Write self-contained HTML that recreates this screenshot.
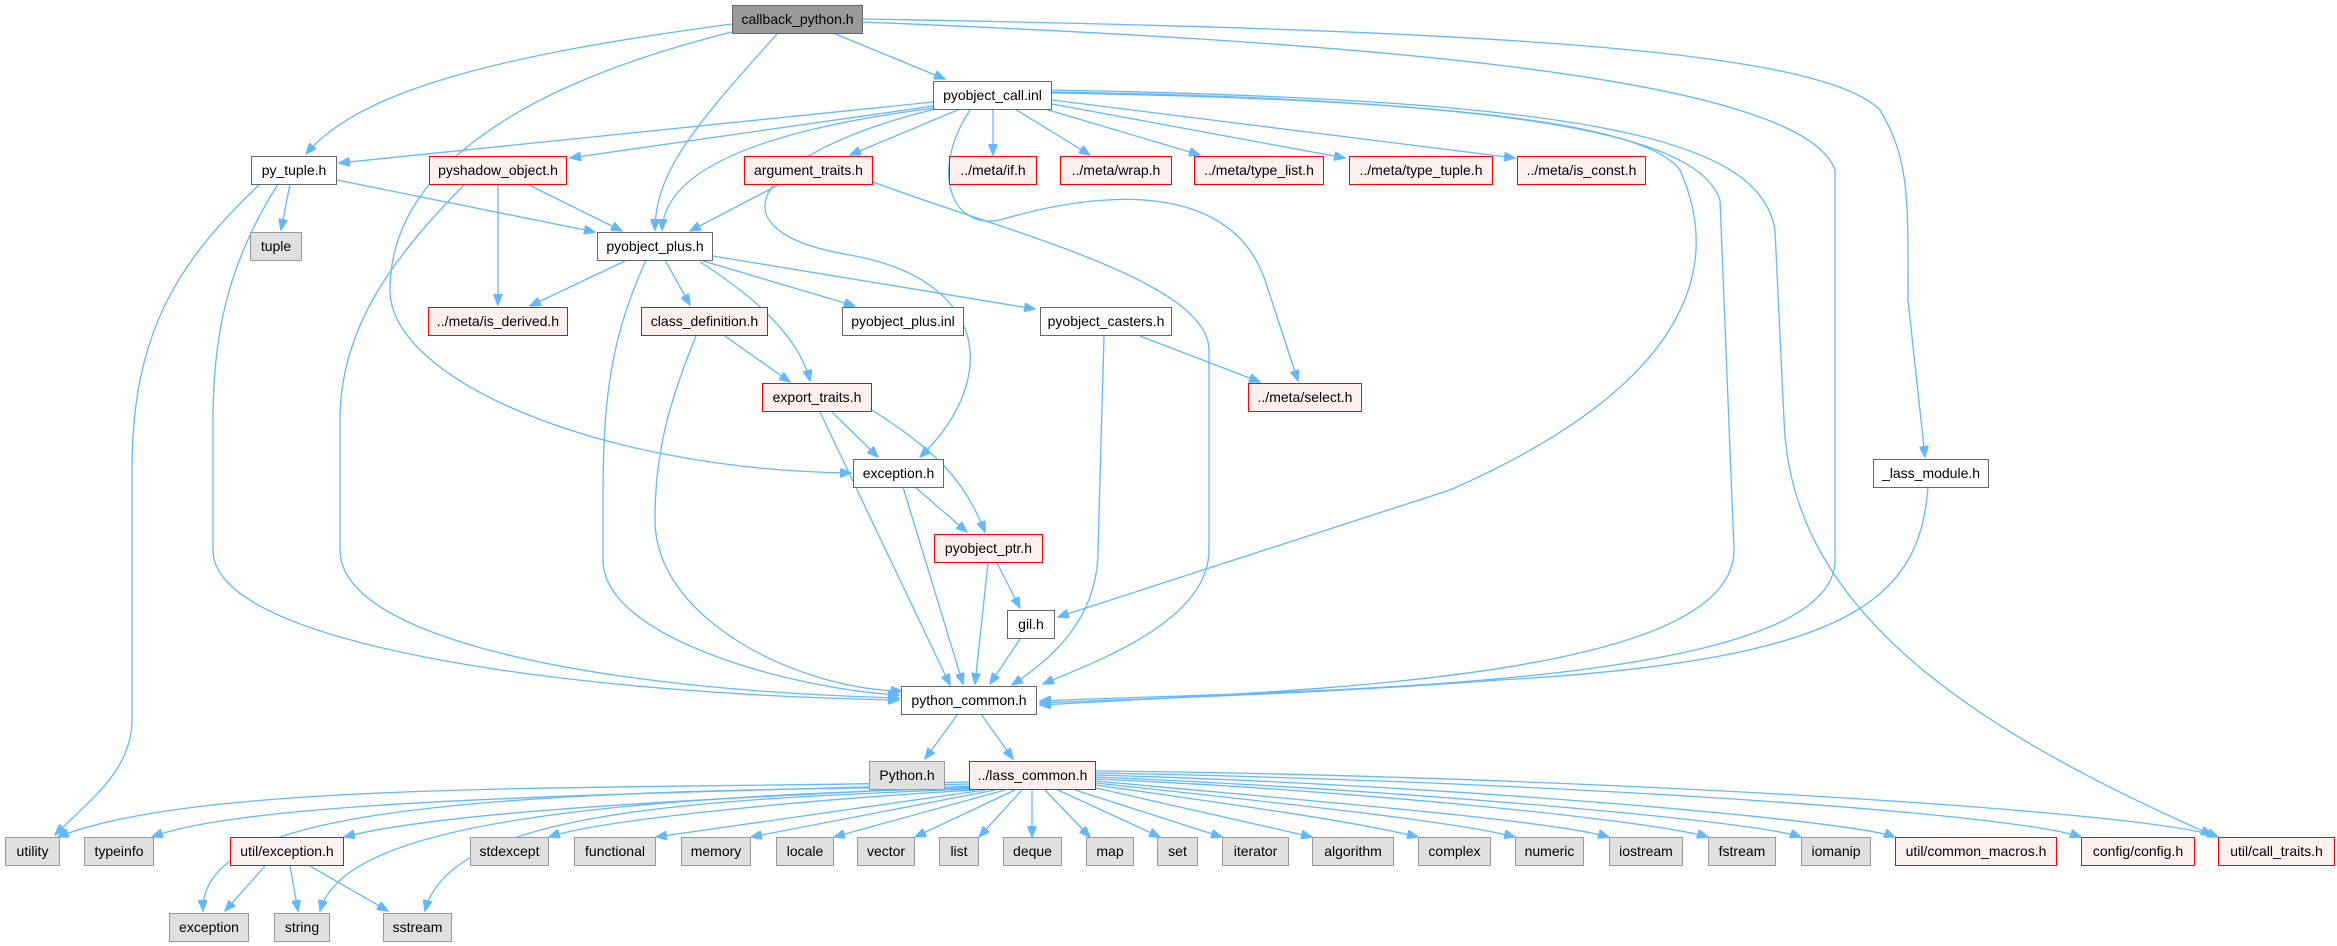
<!DOCTYPE html>
<html><head><meta charset="utf-8"><style>
body{margin:0;background:#fff;width:2337px;height:946px;position:relative;overflow:hidden;font-family:"Liberation Sans","DejaVu Sans",sans-serif}
.n{position:absolute;box-sizing:border-box;height:29px;line-height:27px;text-align:center;font-size:14px;color:#000;white-space:nowrap;border:1.5px solid #666;background:#fff}
.g{background:#e0e0e0;border-color:#999}
.r{background:#fff0f0;border-color:#f00}
.root{background:#999;border-color:#666}
svg{position:absolute;left:0;top:0}
path{fill:none;stroke:#63b8ff;stroke-width:1.3}
</style></head><body>
<svg width="2337" height="946">
<defs><marker id="a" markerUnits="userSpaceOnUse" markerWidth="12" markerHeight="9" refX="11" refY="4.5" orient="auto"><path d="M0,0 L11,4.5 L0,9 z" style="fill:#63b8ff;stroke:#63b8ff"/></marker></defs>
<g marker-end="url(#a)">
<path d="M732,24 C500,55 360,90 306,154"/>
<path d="M732,32 C500,90 390,180 390,290 C390,380 600,470 851,473"/>
<path d="M777,34 C700,120 655,170 655,230"/>
<path d="M833,33 L945,79"/>
<path d="M863,22 C1300,40 1800,70 1835,170 L1835,560 C1835,690 1300,690 1040,701"/>
<path d="M863,19 C1500,30 1820,50 1880,110 C1910,160 1908,200 1908,300 L1925,457"/>
<path d="M933,102 L339,163"/>
<path d="M933,106 L570,158"/>
<path d="M935,108 C760,130 665,170 662,230"/>
<path d="M960,109 L850,155"/>
<path d="M993,109 L993,155"/>
<path d="M1015,109 L1090,155"/>
<path d="M1045,109 L1200,155"/>
<path d="M1052,104 L1345,158"/>
<path d="M1052,100 L1515,158"/>
<path d="M940,108 C760,150 700,230 850,255 C990,280 1000,380 920,457"/>
<path d="M970,110 C930,170 950,230 1000,220 C1100,190 1230,180 1265,280 L1298,381"/>
<path d="M1052,93 C1500,100 1650,130 1680,170 C1720,260 1700,380 1450,490 L1058,617"/>
<path d="M1052,92 C1550,100 1700,140 1720,200 L1734,550 C1734,680 1300,690 1040,705"/>
<path d="M1052,90 C1600,100 1760,140 1775,230 L1784,420 C1790,600 1950,720 2212,835"/>
<path d="M290,184 L281,230"/>
<path d="M337,180 L595,232"/>
<path d="M260,184 C180,260 132,330 132,470 L132,720 C132,770 90,800 55,835"/>
<path d="M278,184 C230,260 213,330 213,420 L213,550 C213,650 600,695 899,700"/>
<path d="M498,184 L498,305"/>
<path d="M527,184 L622,231"/>
<path d="M465,184 C390,260 340,330 340,420 L340,550 C340,640 600,690 899,698"/>
<path d="M780,184 L690,231"/>
<path d="M873,182 C1000,230 1209,280 1209,350 L1209,550 C1209,620 1100,660 1043,684"/>
<path d="M627,260 L530,306"/>
<path d="M665,260 L690,305"/>
<path d="M700,260 L855,306"/>
<path d="M713,256 L1035,309"/>
<path d="M700,262 C760,300 800,340 810,381"/>
<path d="M646,260 C610,340 603,400 603,500 L603,560 C603,640 800,690 899,695"/>
<path d="M725,336 L790,382"/>
<path d="M696,336 C670,400 655,450 655,520 C655,620 800,690 902,691"/>
<path d="M1140,336 L1260,382"/>
<path d="M1104,336 L1098,550 C1098,620 1050,660 1012,685"/>
<path d="M832,412 L878,457"/>
<path d="M872,410 C935,450 965,480 985,532"/>
<path d="M820,412 L950,685"/>
<path d="M915,487 L967,532"/>
<path d="M903,487 L963,684"/>
<path d="M997,563 L1020,608"/>
<path d="M988,563 L975,684"/>
<path d="M1020,639 L990,684"/>
<path d="M1928,487 C1920,600 1850,660 1500,680 C1300,695 1100,700 1040,703"/>
<path d="M958,714 L925,759"/>
<path d="M981,714 L1013,759"/>
<!-- lass_common fan -->
<path d="M969,782 C600,790 200,780 58,837"/>
<path d="M969,784 C600,795 250,800 152,837"/>
<path d="M969,786 C700,800 450,810 344,837"/>
<path d="M969,787 C400,790 200,820 203,911"/>
<path d="M969,788 C500,800 340,840 320,911"/>
<path d="M969,789 C700,800 450,810 425,911"/>
<path d="M975,790 C800,800 600,820 549,837"/>
<path d="M985,790 L656,837"/>
<path d="M995,790 L751,837"/>
<path d="M1005,790 L834,837"/>
<path d="M1015,790 L915,837"/>
<path d="M1022,790 L979,837"/>
<path d="M1032,790 L1032,837"/>
<path d="M1045,790 L1090,837"/>
<path d="M1058,790 L1160,837"/>
<path d="M1075,790 L1222,837"/>
<path d="M1096,788 L1312,837"/>
<path d="M1096,785 C1200,800 1350,820 1418,837"/>
<path d="M1096,783 C1250,800 1450,820 1515,837"/>
<path d="M1096,781 C1300,800 1550,820 1609,837"/>
<path d="M1096,779 C1350,790 1650,820 1708,837"/>
<path d="M1096,777 C1400,790 1750,820 1801,837"/>
<path d="M1096,775 C1450,785 1850,820 1895,837"/>
<path d="M1096,773 C1500,780 2000,810 2081,837"/>
<path d="M1096,771 C1550,775 2150,810 2218,837"/>
<path d="M265,866 L225,911"/>
<path d="M290,866 L298,911"/>
<path d="M310,866 L388,911"/>
</g>
</svg>
<div class="n root" style="left:732px;top:5px;width:131px">callback_python.h</div>
<div class="n" style="left:933px;top:81px;width:119px">pyobject_call.inl</div>
<div class="n" style="left:251px;top:156px;width:86px">py_tuple.h</div>
<div class="n r" style="left:429px;top:156px;width:138px">pyshadow_object.h</div>
<div class="n r" style="left:744px;top:156px;width:129px">argument_traits.h</div>
<div class="n r" style="left:949px;top:156px;width:88px">../meta/if.h</div>
<div class="n r" style="left:1060px;top:156px;width:112px">../meta/wrap.h</div>
<div class="n r" style="left:1194px;top:156px;width:130px">../meta/type_list.h</div>
<div class="n r" style="left:1349px;top:156px;width:144px">../meta/type_tuple.h</div>
<div class="n r" style="left:1517px;top:156px;width:129px">../meta/is_const.h</div>
<div class="n g" style="left:250px;top:232px;width:52px">tuple</div>
<div class="n" style="left:597px;top:232px;width:116px">pyobject_plus.h</div>
<div class="n r" style="left:428px;top:307px;width:140px">../meta/is_derived.h</div>
<div class="n r" style="left:641px;top:307px;width:127px">class_definition.h</div>
<div class="n" style="left:842px;top:307px;width:122px">pyobject_plus.inl</div>
<div class="n" style="left:1040px;top:307px;width:132px">pyobject_casters.h</div>
<div class="n r" style="left:1248px;top:383px;width:114px">../meta/select.h</div>
<div class="n r" style="left:762px;top:383px;width:110px">export_traits.h</div>
<div class="n" style="left:853px;top:459px;width:91px">exception.h</div>
<div class="n" style="left:1873px;top:459px;width:116px">_lass_module.h</div>
<div class="n r" style="left:934px;top:534px;width:109px">pyobject_ptr.h</div>
<div class="n" style="left:1007px;top:610px;width:48px">gil.h</div>
<div class="n" style="left:901px;top:686px;width:136px">python_common.h</div>
<div class="n g" style="left:869px;top:761px;width:76px">Python.h</div>
<div class="n r" style="left:969px;top:761px;width:127px">../lass_common.h</div>
<div class="n g" style="left:5px;top:837px;width:55px">utility</div>
<div class="n g" style="left:84px;top:837px;width:70px">typeinfo</div>
<div class="n r" style="left:230px;top:837px;width:114px">util/exception.h</div>
<div class="n g" style="left:470px;top:837px;width:79px">stdexcept</div>
<div class="n g" style="left:574px;top:837px;width:82px">functional</div>
<div class="n g" style="left:681px;top:837px;width:70px">memory</div>
<div class="n g" style="left:776px;top:837px;width:58px">locale</div>
<div class="n g" style="left:857px;top:837px;width:58px">vector</div>
<div class="n g" style="left:939px;top:837px;width:40px">list</div>
<div class="n g" style="left:1003px;top:837px;width:59px">deque</div>
<div class="n g" style="left:1086px;top:837px;width:48px">map</div>
<div class="n g" style="left:1157px;top:837px;width:41px">set</div>
<div class="n g" style="left:1222px;top:837px;width:67px">iterator</div>
<div class="n g" style="left:1312px;top:837px;width:82px">algorithm</div>
<div class="n g" style="left:1418px;top:837px;width:73px">complex</div>
<div class="n g" style="left:1515px;top:837px;width:69px">numeric</div>
<div class="n g" style="left:1609px;top:837px;width:74px">iostream</div>
<div class="n g" style="left:1708px;top:837px;width:68px">fstream</div>
<div class="n g" style="left:1801px;top:837px;width:70px">iomanip</div>
<div class="n r" style="left:1895px;top:837px;width:162px">util/common_macros.h</div>
<div class="n r" style="left:2081px;top:837px;width:114px">config/config.h</div>
<div class="n r" style="left:2218px;top:837px;width:117px">util/call_traits.h</div>
<div class="n g" style="left:169px;top:913px;width:80px">exception</div>
<div class="n g" style="left:274px;top:913px;width:56px">string</div>
<div class="n g" style="left:383px;top:913px;width:69px">sstream</div>
</body></html>
